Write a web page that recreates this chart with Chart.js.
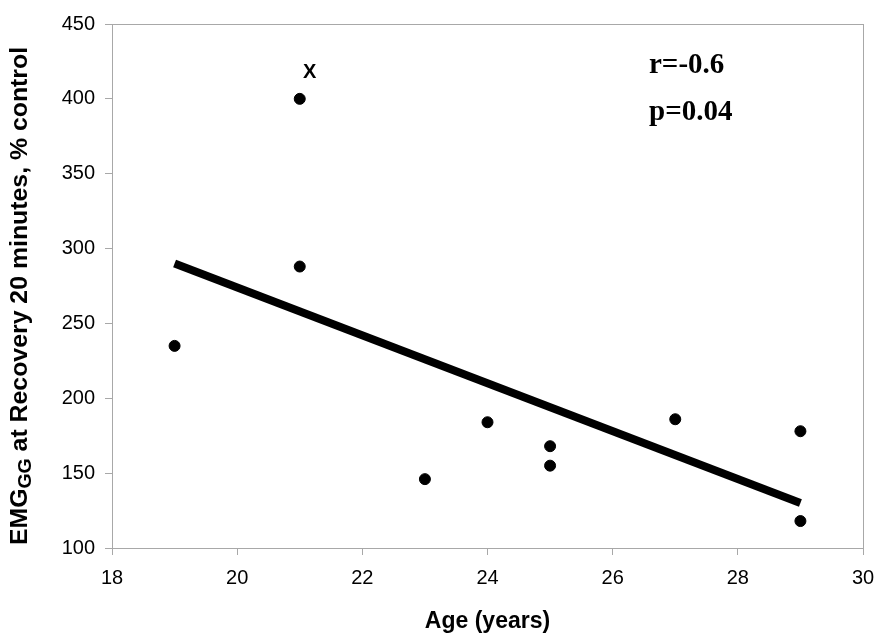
<!DOCTYPE html>
<html>
<head>
<meta charset="utf-8">
<script src="https://cdn.jsdelivr.net/npm/chart.js@4"></script>
<style>
  html, body { margin: 0; padding: 0; background: #fff; }
  #wrap { width: 888px; height: 642px; }
</style>
</head>
<body>
<div id="wrap"><canvas id="chart" width="888" height="642"></canvas></div>
<script>
// subject ages and EMG values
var ages = [19, 21, 21, 23, 24, 25, 25, 27, 29, 29];
var emg = [235, 400, 288, 146, 184, 168, 155, 186, 178, 118];
// regression line end points
var fitX = [19, 29];
var fitY = [290, 130];
var xTicks = [18, 20, 22, 24, 26, 28, 30];
var yTicks = [100, 150, 200, 250, 300, 350, 400, 450];

var axisGrey = '#a8a8a8';

var points = ages.map(function (a, i) { return { x: a, y: emg[i] }; });
var fit = fitX.map(function (a, i) { return { x: a, y: fitY[i] }; });

var extras = {
  id: 'extras',
  afterDraw: function (chart) {
    var ctx = chart.ctx;
    var area = chart.chartArea;
    ctx.save();
    // frame of the plot area
    ctx.strokeStyle = axisGrey;
    ctx.lineWidth = 1;
    ctx.strokeRect(area.left + 0.5, area.top + 0.5, area.right - area.left, area.bottom - area.top);

    ctx.fillStyle = '#000';
    // x title
    ctx.font = 'bold 23px "Liberation Sans", Arial, sans-serif';
    ctx.textAlign = 'center';
    ctx.textBaseline = 'alphabetic';
    ctx.fillText('Age (years)', (area.left + area.right) / 2, 628);

    // y title with subscript, a bit stretched like the original
    ctx.translate(27, 296);
    ctx.rotate(-Math.PI / 2);
    ctx.scale(1.08, 1);
    var big = 'bold 23px "Liberation Sans", Arial, sans-serif';
    var small = 'bold 18px "Liberation Sans", Arial, sans-serif';
    var parts = [['EMG', big, 0], ['GG', small, 4], [' at Recovery 20 minutes, % control', big, 0]];
    var total = 0;
    parts.forEach(function (p) { ctx.font = p[1]; total += ctx.measureText(p[0]).width; });
    var pos = -total / 2;
    ctx.textAlign = 'left';
    parts.forEach(function (p) {
      ctx.font = p[1];
      ctx.fillText(p[0], pos, p[2]);
      pos += ctx.measureText(p[0]).width;
    });
    ctx.setTransform(1, 0, 0, 1, 0, 0);

    // outlier mark
    var xs = chart.scales.x;
    ctx.font = 'bold 20px "Liberation Sans", Arial, sans-serif';
    ctx.textAlign = 'center';
    ctx.textBaseline = 'middle';
    ctx.fillText('X', xs.getPixelForValue(21) + 10, 72);

    // statistics
    ctx.font = 'bold 29px "Liberation Serif", "Times New Roman", serif';
    ctx.textAlign = 'left';
    ctx.textBaseline = 'alphabetic';
    ctx.fillText('r=-0.6', 649, 73);
    ctx.fillText('p=0.04', 649, 120);
    ctx.restore();
  }
};

var config = {
  type: 'scatter',
  data: {
    datasets: [{
      data: points,
      backgroundColor: '#000',
      borderColor: '#000',
      pointRadius: 5.5,
      pointHoverRadius: 5.5
    }, {
      data: fit,
      showLine: true,
      borderColor: '#000',
      borderWidth: 8,
      borderCapStyle: 'butt',
      pointRadius: 0,
      pointHoverRadius: 0
    }]
  },
  options: {
    responsive: false,
    animation: false,
    events: [],
    layout: {
      padding: { left: 0, top: 24, right: 25, bottom: 0 }
    },
    plugins: {
      legend: { display: false },
      tooltip: { enabled: false }
    },
    scales: {
      x: {
        type: 'linear',
        min: 18,
        max: 30,
        afterBuildTicks: function (scale) {
          scale.ticks = xTicks.map(function (v) { return { value: v }; });
        },
        afterFit: function (scale) { scale.height = 94; },
        grid: { drawOnChartArea: false, drawTicks: true, tickLength: 7, color: axisGrey },
        border: { color: axisGrey },
        ticks: {
          color: '#000',
          padding: 11,
          maxRotation: 0,
          font: { family: '"Liberation Sans", Arial, sans-serif', size: 20 }
        }
      },
      y: {
        type: 'linear',
        min: 100,
        max: 450,
        afterBuildTicks: function (scale) {
          scale.ticks = yTicks.map(function (v) { return { value: v }; });
        },
        afterFit: function (scale) { scale.width = 112; },
        grid: { drawOnChartArea: false, drawTicks: true, tickLength: 7, color: axisGrey },
        border: { color: axisGrey },
        ticks: {
          color: '#000',
          padding: 10,
          font: { family: '"Liberation Sans", Arial, sans-serif', size: 20 }
        }
      }
    }
  },
  plugins: [extras]
};

window.onload = function () {
  var ctx = document.getElementById('chart').getContext('2d');
  window.myChart = new Chart(ctx, config);
};
</script>
</body>
</html>
